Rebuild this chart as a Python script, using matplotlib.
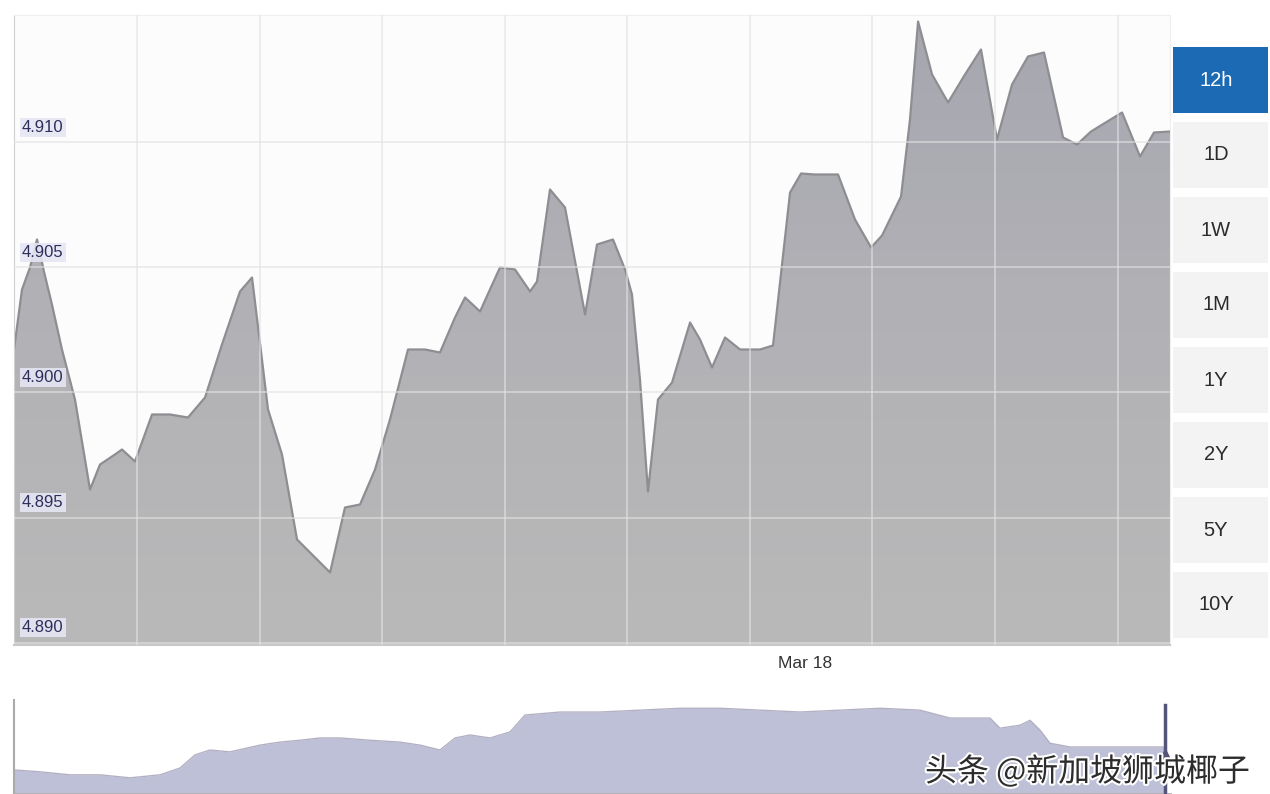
import numpy as np
import matplotlib.pyplot as plt
import matplotlib.patheffects as pe
from matplotlib.patches import Rectangle, Polygon
from matplotlib.colors import LinearSegmentedColormap
from matplotlib.transforms import blended_transform_factory

plt.rcParams['font.family'] = ['Noto Sans CJK SC', 'DejaVu Sans']

# 12h exchange rate series (hours from window start, rate)
hours = [0.000, 0.083, 0.166, 0.239, 0.311, 0.394, 0.498, 0.633, 0.789, 0.893,
         1.048, 1.121, 1.256, 1.433, 1.619, 1.806, 1.983, 2.159, 2.346, 2.471,
         2.637, 2.782, 2.938, 3.094, 3.281, 3.436, 3.592, 3.748, 3.903, 4.090,
         4.267, 4.422, 4.578, 4.682, 4.838, 4.941, 5.045, 5.201, 5.357, 5.429,
         5.564, 5.720, 5.928, 6.052, 6.218, 6.343, 6.415, 6.498, 6.581, 6.685,
         6.831, 7.018, 7.121, 7.246, 7.381, 7.537, 7.744, 7.879, 8.056, 8.170,
         8.315, 8.554, 8.730, 8.897, 9.011, 9.208, 9.301, 9.385, 9.530, 9.696,
         9.872, 10.038, 10.204, 10.360, 10.526, 10.692, 10.890, 11.035, 11.180,
         11.502, 11.689, 11.834, 12.000]
rate = [4.90172, 4.90412, 4.90500, 4.90612, 4.90484, 4.90352, 4.90172, 4.89972,
        4.89612, 4.89712, 4.89752, 4.89772, 4.89724, 4.89912, 4.89912, 4.89900,
        4.89980, 4.90192, 4.90404, 4.90460, 4.89932, 4.89752, 4.89412, 4.89352,
        4.89280, 4.89540, 4.89552, 4.89692, 4.89892, 4.90172, 4.90172, 4.90160,
        4.90300, 4.90380, 4.90324, 4.90412, 4.90500, 4.90492, 4.90404, 4.90444,
        4.90812, 4.90740, 4.90312, 4.90592, 4.90612, 4.90492, 4.90392, 4.90052,
        4.89604, 4.89972, 4.90040, 4.90280, 4.90212, 4.90100, 4.90220, 4.90172,
        4.90172, 4.90188, 4.90800, 4.90876, 4.90872, 4.90872, 4.90692, 4.90580,
        4.90628, 4.90784, 4.91092, 4.91484, 4.91272, 4.91160, 4.91272, 4.91372,
        4.91012, 4.91232, 4.91344, 4.91360, 4.91020, 4.90992, 4.91044, 4.91120,
        4.90944, 4.91040, 4.91044]

y_ticks = [4.890, 4.895, 4.900, 4.905, 4.910]
y_labels = ["4.890", "4.895", "4.900", "4.905", "4.910"]
date_label = "Mar 18"
date_pos = 8.21

# navigator (long range) series
nav_x = [0, 26, 56, 86, 116, 146, 166, 181, 196, 216, 246, 266, 286, 306, 326,
         356, 386, 406, 426, 441, 456, 476, 496, 511, 546, 586, 626, 666, 706,
         746, 786, 826, 866, 906, 936, 976, 986, 1006, 1016, 1026, 1036, 1056,
         1086, 1116, 1151]
nav_val = [4.764, 4.759, 4.751, 4.751, 4.743, 4.751, 4.769, 4.804, 4.817, 4.812,
           4.830, 4.838, 4.843, 4.849, 4.849, 4.843, 4.838, 4.830, 4.817, 4.849,
           4.857, 4.849, 4.865, 4.910, 4.918, 4.918, 4.923, 4.928, 4.928, 4.923,
           4.918, 4.923, 4.928, 4.923, 4.902, 4.902, 4.875, 4.883, 4.896, 4.870,
           4.835, 4.825, 4.825, 4.825, 4.825]

buttons = ["12h", "1D", "1W", "1M", "1Y", "2Y", "5Y", "10Y"]

W, H = 1270, 794
fig = plt.figure(figsize=(12.7, 7.94), dpi=100)
fig.patch.set_facecolor("white")

# ---- main chart
ax = fig.add_axes([14 / W, 1 - 645 / H, 1156 / W, 630 / H])
ax.set_xlim(0, 12)
ax.set_ylim(4.8899, 4.9151)
ax.set_facecolor("#fcfcfc")

# area fill with a soft vertical gradient
poly_pts = [(hours[0], 4.8899)] + list(zip(hours, rate)) + [(hours[-1], 4.8899)]
clip = Polygon(poly_pts, closed=True, facecolor="none", edgecolor="none")
ax.add_patch(clip)
grad = np.linspace(0, 1, 256).reshape(-1, 1)
cmap = LinearSegmentedColormap.from_list("g", ["#b9b9b9", "#b2b2b6", "#a6a6b0"])
im = ax.imshow(grad, extent=(0, 12, 4.8899, 4.9151), origin="lower",
               aspect="auto", cmap=cmap, zorder=1)
im.set_clip_path(clip)
ax.plot(hours, rate, color="#8e8e92", lw=1.6, zorder=2)

ax.set_yticks(y_ticks)
grid_hours = np.arange(1, 10) * 1.2725 + 0.004
ax.set_xticks(grid_hours)
ax.grid(True, color="#e2e2e2", lw=1.2, alpha=0.7, zorder=3)
ax.set_axisbelow(False)
ax.tick_params(length=0, labelbottom=False, labelleft=False)
for s in ["top", "right"]:
    ax.spines[s].set_color("#efefef")
ax.spines["left"].set_color("#d0d0d0")
ax.spines["bottom"].set_color("#c8c8c8")
ax.spines["bottom"].set_linewidth(1.5)

tr = blended_transform_factory(ax.transAxes, ax.transData)
for v, lab in zip(y_ticks, y_labels):
    ax.text(0.007, v + 0.0006, lab, transform=tr, fontsize=12,
            color="#2e2e5c", va="center", ha="left", family="Liberation Sans",
            bbox=dict(boxstyle="square,pad=0.12", fc="#e6e6f4", ec="none", alpha=0.9),
            zorder=5)

ax.text(date_pos, -0.018, date_label,
        transform=blended_transform_factory(ax.transData, ax.transAxes),
        ha="center", va="top", fontsize=12.5, color="#333333",
        family="Liberation Sans")

# ---- range buttons
bax = fig.add_axes([0, 0, 1, 1], facecolor="none")
bax.set_xlim(0, W)
bax.set_ylim(H, 0)
bax.axis("off")
for i, b in enumerate(buttons):
    cy = 80 + i * 75.0
    active = i == 0
    bax.add_patch(Rectangle((1173, cy - 33), 95, 66,
                            fc="#1c6ab4" if active else "#f3f3f3", ec="none"))
    bax.text(1216, cy, b, ha="center", va="center", fontsize=14.5,
             color="white" if active else "#2b2b2b", family="Liberation Sans")

# ---- navigator
nax = fig.add_axes([14 / W, 0, 1156 / W, 94 / H])
nax.set_xlim(0, 1156)
nax.set_ylim(4.70, 4.95)
nax.fill_between(nav_x, nav_val, 4.70, color="#bdc0d6", lw=0, zorder=1)
nax.plot(nav_x, nav_val, color="#b4b0c4", lw=1.0, zorder=2)
nax.axvline(1151, ymin=0, ymax=0.95, color="#55557a", lw=2.5, zorder=3)
nax.plot([1151], [4.80], marker="^", ms=10, color="#55557a", zorder=3)
nax.set_xticks([])
nax.set_yticks([])
for s in ["top", "right"]:
    nax.spines[s].set_visible(False)
nax.spines["bottom"].set_color("#b0b0b0")
nax.spines["bottom"].set_linewidth(2)
nax.spines["left"].set_color("#aaaaaa")
nax.spines["left"].set_linewidth(1.5)
nax.set_facecolor("white")

fig.text(925 / W, 1 - 772 / H, "头条 @新加坡狮城椰子", fontsize=23, color="#2c2c2c",
         va="center", ha="left",
         path_effects=[pe.withStroke(linewidth=3, foreground="white")])

fig.savefig("out.png", dpi=100)
